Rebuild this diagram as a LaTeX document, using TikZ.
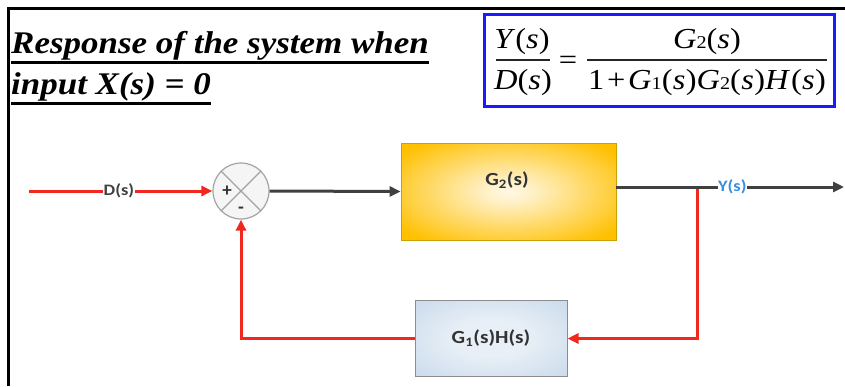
\documentclass[tikz,border=0pt]{standalone}
\usepackage{fontspec}
\usepackage{graphicx}
\setmainfont{Liberation Serif}
\newfontfamily\labfont{Carlito}
\usetikzlibrary{arrows.meta}

\definecolor{sigred}{HTML}{F0281E}
\definecolor{sigdark}{HTML}{404040}
\definecolor{outblue}{HTML}{3A8EE0}
\definecolor{boxblue}{HTML}{1A1AFF}
\definecolor{gtwoout}{HTML}{FFC000}
\definecolor{gtwoin}{HTML}{FFF8E6}
\definecolor{gtwoedge}{HTML}{C8A000}
\definecolor{gonein}{HTML}{E8EFF6}
\definecolor{goneout}{HTML}{BED3E8}
\definecolor{gridgray}{HTML}{8C8C8C}

\pgfdeclareradialshading{gtwoshade}{\pgfpoint{0bp}{0bp}}{%
  color(0bp)=(gtwoin); color(6bp)=(gtwoin!85!gtwoout); color(32bp)=(gtwoout); color(100bp)=(gtwoout)}
\pgfdeclareradialshading{goneshade}{\pgfpoint{0bp}{0bp}}{%
  color(0bp)=(gonein); color(12bp)=(gonein); color(45bp)=(goneout); color(100bp)=(goneout)}

% horizontally widened text
\newcommand\eqs[1]{\scalebox{1.12}[1]{#1}}
\newcommand\wide[1]{\scalebox{1.11}[1]{#1}}
\newcommand\lab[1]{\scalebox{1.15}[1]{#1}}
\newcommand\smalltwo[1]{{\fontsize{18}{18}\selectfont #1}}

\begin{document}
\begin{tikzpicture}[x=1pt,y=-1pt,
  frameline/.style={line width=3pt,black},
  titletext/.style={inner sep=0pt,anchor=base west,font=\fontsize{31.5}{32}\selectfont\bfseries\itshape},
  ulline/.style={line width=2.4pt,black},
  eqtext/.style={inner sep=0pt,anchor=base,font=\fontsize{29}{29}\selectfont},
  eqbar/.style={line width=1.1pt,black!85},
  redsig/.style={line width=3pt,sigred},
  darksig/.style={line width=3pt,sigdark},
  tip/.style={-{Triangle[length=11pt,width=10pt]}},
  siglabel/.style={inner sep=0.5pt,fill=white,font=\labfont\bfseries\fontsize{16}{16}\selectfont},
  blocklabel/.style={font=\labfont\bfseries\fontsize{18.5}{18.5}\selectfont,text=black!80},
  signtext/.style={font=\labfont\bfseries\fontsize{19}{19}\selectfont,text=black!80,inner sep=0pt}
]
\useasboundingbox (0,0) rectangle (845,386);

% outer frame
\draw[frameline] (8.5,386) -- (8.5,8) -- (845,8);

% heading
\node[titletext] (t1) at (11,53) {\wide{Response of the system when}};
\node[titletext] (t2) at (11,94) {\wide{input X(s) = 0}};
\draw[ulline] ([yshift=-9.5pt]t1.base west) -- ([yshift=-9.5pt]t1.base east);
\draw[ulline] ([yshift=-9.5pt]t2.base west) -- ([yshift=-9.5pt]t2.base east);

% transfer function box
\draw[line width=3pt,boxblue] (484,14) rectangle (834,106);
\node[eqtext] (ynum) at (522,48) {\eqs{\textit{Y}(\textit{s})}};
\node[eqtext] (dden) at (523,89) {\eqs{\textit{D}(\textit{s})}};
\draw[eqbar] (496,60) -- (550,60);
\node[eqtext] (eqsign) at (568,69) {\eqs{=}};
\node[eqtext] (gnum) at (707,48) {\eqs{\textit{G}\smalltwo{2}(\textit{s})}};
\node[eqtext] (gden) at (707,89) {\eqs{1\kern2.5pt+\kern2.5pt\textit{G}\smalltwo{1}(\kern0.3pt\textit{s}\kern0.3pt)\textit{G}\smalltwo{2}(\kern0.3pt\textit{s}\kern0.3pt)\textit{H}\kern0.8pt(\kern0.3pt\textit{s}\kern0.3pt)}};
\draw[eqbar] (587,60) -- (827,60);

% summing junction
\node[circle,draw=gridgray!80,line width=1.2pt,fill=black!4,minimum size=56pt,inner sep=0pt] (sum) at (241,191) {};
\draw[gridgray!80,line width=1.1pt] (sum.north west) -- (sum.south east);
\draw[gridgray!80,line width=1.1pt] (sum.north east) -- (sum.south west);
\node[signtext] (plus) at (227,191) {+};
\node[signtext] (minus) at (241,210) {-};

% blocks
\node[draw=gtwoedge,line width=0.8pt,shading=gtwoshade,minimum width=215pt,minimum height=97pt,inner sep=0pt] (g2) at (508.5,191.5) {};
\node[blocklabel] (g2lab) at (507,180) {\lab{G\textsubscript{2}(s)}};
\node[draw=gridgray,line width=1pt,shading=goneshade,minimum width=152pt,minimum height=76pt,inner sep=0pt,blocklabel] (g1h) at (491,338.5) {\lab{G\textsubscript{1}(s)H(s)}};

% signal paths
\coordinate (din) at (29,191);
\coordinate (g2out) at (616,187);
\coordinate (yend) at (844,187);
\coordinate (tap) at (697,187);
\draw[redsig,tip] (din) -- node[pos=0.49,siglabel,text=sigdark] (dlab) {\lab{D(s)}} (sum.west);
\draw[darksig,tip] (sum.east) -- (g2.west);
\draw[redsig,tip] (tap) |- (g1h.east);
\draw[redsig,tip] (g1h.west) -| (sum.south);
\draw[darksig,tip] (g2out) -- node[pos=0.51,siglabel,text=outblue] (ylab) {\lab{Y(s)}} (yend);
\end{tikzpicture}
\end{document}
